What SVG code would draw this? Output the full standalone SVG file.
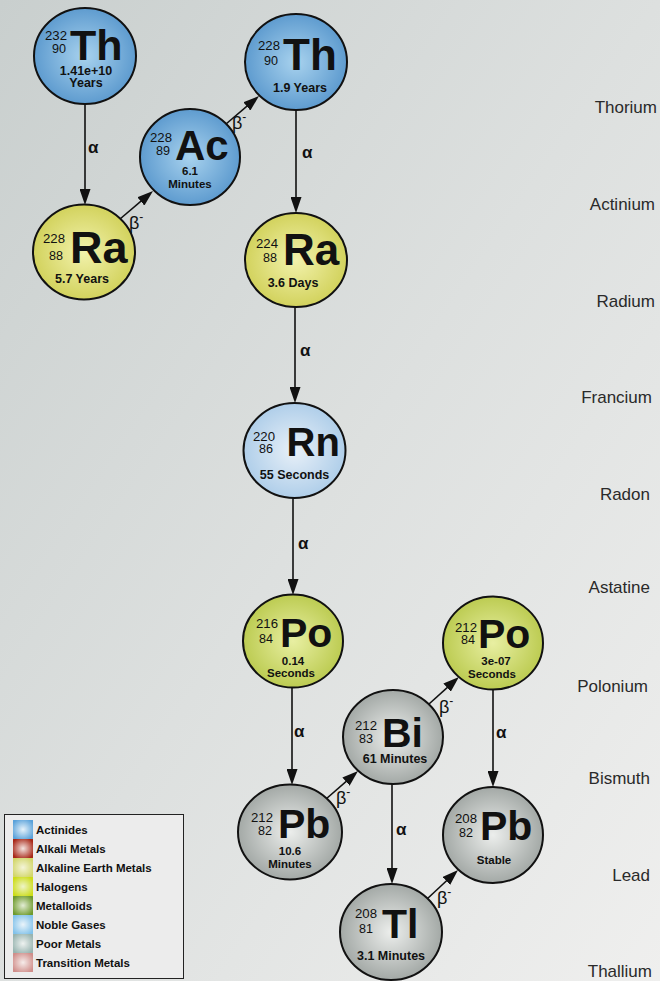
<svg xmlns="http://www.w3.org/2000/svg" width="660" height="981" viewBox="0 0 660 981">
  <defs>
    <linearGradient id="bg" x1="0" y1="0" x2="1" y2="1">
      <stop offset="0" stop-color="#c9cfce"/>
      <stop offset="0.5" stop-color="#dde0df"/>
      <stop offset="1" stop-color="#efefee"/>
    </linearGradient>
    <radialGradient id="gAct" cx="0.5" cy="0.5" r="0.55">
      <stop offset="0" stop-color="#a8d2ee"/>
      <stop offset="1" stop-color="#5796cc"/>
    </radialGradient>
    <radialGradient id="gAlk" cx="0.5" cy="0.5" r="0.55">
      <stop offset="0" stop-color="#f2f2ac"/>
      <stop offset="1" stop-color="#cfcf55"/>
    </radialGradient>
    <radialGradient id="gNob" cx="0.5" cy="0.5" r="0.55">
      <stop offset="0" stop-color="#e8f0f8"/>
      <stop offset="1" stop-color="#aacbe8"/>
    </radialGradient>
    <radialGradient id="gPol" cx="0.5" cy="0.5" r="0.55">
      <stop offset="0" stop-color="#e8efa2"/>
      <stop offset="1" stop-color="#b8c84a"/>
    </radialGradient>
    <radialGradient id="gPoor" cx="0.5" cy="0.5" r="0.55">
      <stop offset="0" stop-color="#eceeec"/>
      <stop offset="1" stop-color="#9ca29f"/>
    </radialGradient>
    <!-- legend swatches -->
    <radialGradient id="sw1" cx="0.5" cy="0.5" r="0.6"><stop offset="0" stop-color="#e6f2fa"/><stop offset="1" stop-color="#5aa2da"/></radialGradient>
    <radialGradient id="sw2" cx="0.5" cy="0.5" r="0.6"><stop offset="0" stop-color="#f4e4e0"/><stop offset="1" stop-color="#a82818"/></radialGradient>
    <radialGradient id="sw3" cx="0.5" cy="0.5" r="0.6"><stop offset="0" stop-color="#f4f4d8"/><stop offset="1" stop-color="#d2d66a"/></radialGradient>
    <radialGradient id="sw4" cx="0.5" cy="0.5" r="0.6"><stop offset="0" stop-color="#eef4c8"/><stop offset="1" stop-color="#ccdc18"/></radialGradient>
    <radialGradient id="sw5" cx="0.5" cy="0.5" r="0.6"><stop offset="0" stop-color="#e2ecd4"/><stop offset="1" stop-color="#6e9a2c"/></radialGradient>
    <radialGradient id="sw6" cx="0.5" cy="0.5" r="0.6"><stop offset="0" stop-color="#eaf4fa"/><stop offset="1" stop-color="#82c2ea"/></radialGradient>
    <radialGradient id="sw7" cx="0.5" cy="0.5" r="0.6"><stop offset="0" stop-color="#eef2f0"/><stop offset="1" stop-color="#98b4b0"/></radialGradient>
    <radialGradient id="sw8" cx="0.5" cy="0.5" r="0.6"><stop offset="0" stop-color="#f6ecea"/><stop offset="1" stop-color="#d08e8a"/></radialGradient>
    <marker id="ah" viewBox="0 0 16 11" refX="8" refY="5.5" markerWidth="16" markerHeight="11" markerUnits="userSpaceOnUse" orient="auto">
      <path d="M0,0 L16,5.5 L0,11 z" fill="#111"/>
    </marker>
    <style>
      .atom { stroke: #111; stroke-width: 2; }
      text { font-family: "Liberation Sans", Arial, sans-serif; fill: #111; }
      .m { font-size: 13.5px; text-anchor: end; }
      .sym { font-size: 41px; font-weight: bold; }
      .t { font-size: 12.5px; font-weight: bold; text-anchor: middle; }
      .t2 { font-size: 11.5px; font-weight: bold; text-anchor: middle; }
      .edge { stroke: #111; stroke-width: 1.6; fill: none; marker-end: url(#ah); }
      .a { font-size: 17px; font-weight: bold; }
      .b { font-size: 18px; }
      .bs { font-size: 12px; }
      .el { font-size: 17px; text-anchor: end; fill: #2a2a2a; }
      .lg { font-size: 11.5px; font-weight: bold; }
    </style>
  </defs>

  <rect x="0" y="0" width="660" height="981" fill="url(#bg)"/>

  <!-- element row labels -->
  <g id="rows">
    <text class="el" x="657" y="113">Thorium</text>
    <text class="el" x="655" y="210">Actinium</text>
    <text class="el" x="655" y="307">Radium</text>
    <text class="el" x="652" y="403">Francium</text>
    <text class="el" x="650" y="500">Radon</text>
    <text class="el" x="650" y="593">Astatine</text>
    <text class="el" x="648" y="692">Polonium</text>
    <text class="el" x="650" y="784">Bismuth</text>
    <text class="el" x="650" y="881">Lead</text>
    <text class="el" x="652" y="977">Thallium</text>
  </g>

  <!-- decay connectors -->
  <g id="connectors">
    <line class="edge" x1="85" y1="104" x2="85" y2="197"/>
    <text class="a" x="88" y="153">α</text>
    <line class="edge" x1="120" y1="219" x2="146.9" y2="196.2"/>
    <text class="b" x="129" y="229">β<tspan class="bs" dy="-8">-</tspan></text>
    <line class="edge" x1="226" y1="124" x2="252.9" y2="101.2"/>
    <text class="b" x="232" y="129">β<tspan class="bs" dy="-8">-</tspan></text>
    <line class="edge" x1="296" y1="110" x2="296" y2="205"/>
    <text class="a" x="302" y="158">α</text>
    <line class="edge" x1="295" y1="307" x2="295" y2="395"/>
    <text class="a" x="300" y="356">α</text>
    <line class="edge" x1="293" y1="498" x2="293" y2="587"/>
    <text class="a" x="298" y="549">α</text>
    <line class="edge" x1="292" y1="688" x2="292" y2="777"/>
    <text class="a" x="294" y="737">α</text>
    <line class="edge" x1="326" y1="799" x2="352" y2="776.3"/>
    <text class="b" x="336" y="804">β<tspan class="bs" dy="-8">-</tspan></text>
    <line class="edge" x1="429" y1="704" x2="453" y2="682.3"/>
    <text class="b" x="439" y="713">β<tspan class="bs" dy="-8">-</tspan></text>
    <line class="edge" x1="493" y1="690" x2="493" y2="779"/>
    <text class="a" x="496" y="738">α</text>
    <line class="edge" x1="392" y1="784" x2="392" y2="876"/>
    <text class="a" x="396" y="835">α</text>
    <line class="edge" x1="427" y1="899" x2="452.2" y2="875.5"/>
    <text class="b" x="437" y="904">β<tspan class="bs" dy="-8">-</tspan></text>
  </g>

  <!-- nuclides -->
  <g id="th232" transform="translate(85,56)">
    <ellipse class="atom" rx="51" ry="48" fill="url(#gAct)"/>
    <text class="m" x="-18" y="-16" textLength="22" lengthAdjust="spacingAndGlyphs">232</text>
    <text class="m" x="-19" y="-3" textLength="14" lengthAdjust="spacingAndGlyphs">90</text>
    <text class="sym" x="-15" y="4" style="font-size:43px">Th</text>
    <text class="t" x="1" y="19">1.41e+10</text>
    <text class="t" x="1" y="31">Years</text>
  </g>

  <g id="ac228" transform="translate(190,157)">
    <ellipse class="atom" rx="50" ry="48" fill="url(#gAct)"/>
    <text class="m" x="-18" y="-15" textLength="22" lengthAdjust="spacingAndGlyphs">228</text>
    <text class="m" x="-20" y="-2" textLength="14" lengthAdjust="spacingAndGlyphs">89</text>
    <text class="sym" x="-15" y="3" style="font-size:42px">Ac</text>
    <text class="t2" x="0" y="18">6.1</text>
    <text class="t2" x="0" y="31">Minutes</text>
  </g>

  <g id="th228" transform="translate(296,62)">
    <ellipse class="atom" rx="51" ry="48" fill="url(#gAct)"/>
    <text class="m" x="-16" y="-12" textLength="22" lengthAdjust="spacingAndGlyphs">228</text>
    <text class="m" x="-18" y="3" textLength="14" lengthAdjust="spacingAndGlyphs">90</text>
    <text class="sym" x="-13" y="8" style="font-size:44px">Th</text>
    <text class="t" x="4" y="30">1.9 Years</text>
  </g>

  <g id="ra228" transform="translate(84,252)">
    <ellipse class="atom" rx="51" ry="47.5" fill="url(#gAlk)"/>
    <text class="m" x="-19" y="-9" textLength="22" lengthAdjust="spacingAndGlyphs">228</text>
    <text class="m" x="-21" y="8" textLength="14" lengthAdjust="spacingAndGlyphs">88</text>
    <text class="sym" x="-14" y="11" style="font-size:45px">Ra</text>
    <text class="t" x="-2" y="31">5.7 Years</text>
  </g>

  <g id="ra224" transform="translate(296,260)">
    <ellipse class="atom" rx="51" ry="47" fill="url(#gAlk)"/>
    <text class="m" x="-18" y="-12" textLength="22" lengthAdjust="spacingAndGlyphs">224</text>
    <text class="m" x="-19" y="2" textLength="14" lengthAdjust="spacingAndGlyphs">88</text>
    <text class="sym" x="-13" y="5" style="font-size:44px">Ra</text>
    <text class="t" x="-3" y="27">3.6 Days</text>
  </g>

  <g id="rn220" transform="translate(294.5,450.5)">
    <ellipse class="atom" rx="51" ry="47.5" fill="url(#gNob)"/>
    <text class="m" x="-19.5" y="-10" textLength="22" lengthAdjust="spacingAndGlyphs">220</text>
    <text class="m" x="-21.5" y="2" textLength="14" lengthAdjust="spacingAndGlyphs">86</text>
    <text class="sym" x="-8" y="5" style="font-size:40px">Rn</text>
    <text class="t" x="0" y="28">55 Seconds</text>
  </g>

  <g id="po216" transform="translate(293,641)">
    <ellipse class="atom" rx="50" ry="46.5" fill="url(#gPol)"/>
    <text class="m" x="-15" y="-13" textLength="22" lengthAdjust="spacingAndGlyphs">216</text>
    <text class="m" x="-20" y="2" textLength="14" lengthAdjust="spacingAndGlyphs">84</text>
    <text class="sym" x="-13" y="6">Po</text>
    <text class="t2" x="0" y="24">0.14</text>
    <text class="t2" x="-2" y="36">Seconds</text>
  </g>

  <g id="po212" transform="translate(493,643)">
    <ellipse class="atom" rx="50" ry="46.5" fill="url(#gPol)"/>
    <text class="m" x="-16" y="-11" textLength="22" lengthAdjust="spacingAndGlyphs">212</text>
    <text class="m" x="-18" y="1" textLength="14" lengthAdjust="spacingAndGlyphs">84</text>
    <text class="sym" x="-15" y="5">Po</text>
    <text class="t2" x="3" y="22">3e-07</text>
    <text class="t2" x="-1" y="35">Seconds</text>
  </g>

  <g id="bi212" transform="translate(393,737)">
    <ellipse class="atom" rx="50" ry="47" fill="url(#gPoor)"/>
    <text class="m" x="-16" y="-7" textLength="22" lengthAdjust="spacingAndGlyphs">212</text>
    <text class="m" x="-20" y="6" textLength="14" lengthAdjust="spacingAndGlyphs">83</text>
    <text class="sym" x="-11" y="10">Bi</text>
    <text class="t" x="2" y="26">61 Minutes</text>
  </g>

  <g id="pb212" transform="translate(290,832)">
    <ellipse class="atom" rx="52" ry="47.5" fill="url(#gPoor)"/>
    <text class="m" x="-17" y="-10" textLength="22" lengthAdjust="spacingAndGlyphs">212</text>
    <text class="m" x="-18" y="3" textLength="14" lengthAdjust="spacingAndGlyphs">82</text>
    <text class="sym" x="-12" y="6">Pb</text>
    <text class="t2" x="0" y="23">10.6</text>
    <text class="t2" x="0" y="36">Minutes</text>
  </g>

  <g id="pb208" transform="translate(493,835)">
    <ellipse class="atom" rx="50" ry="48" fill="url(#gPoor)"/>
    <text class="m" x="-16" y="-12" textLength="22" lengthAdjust="spacingAndGlyphs">208</text>
    <text class="m" x="-20" y="2" textLength="14" lengthAdjust="spacingAndGlyphs">82</text>
    <text class="sym" x="-13" y="5">Pb</text>
    <text class="t2" x="1" y="29">Stable</text>
  </g>

  <g id="tl208" transform="translate(391,932)">
    <ellipse class="atom" rx="51" ry="48" fill="url(#gPoor)"/>
    <text class="m" x="-14" y="-14" textLength="22" lengthAdjust="spacingAndGlyphs">208</text>
    <text class="m" x="-18" y="1" textLength="14" lengthAdjust="spacingAndGlyphs">81</text>
    <text class="sym" x="-9" y="6">Tl</text>
    <text class="t" x="0" y="28">3.1 Minutes</text>
  </g>

  <!-- legend -->
  <g id="legend">
    <rect x="4.5" y="814.5" width="179" height="164" fill="#ececec" stroke="#222" stroke-width="1"/>
    <rect x="13" y="820" width="20" height="19" fill="url(#sw1)"/>
    <text class="lg" x="36" y="834">Actinides</text>
    <rect x="13" y="839" width="20" height="19" fill="url(#sw2)"/>
    <text class="lg" x="36" y="853">Alkali Metals</text>
    <rect x="13" y="858" width="20" height="19" fill="url(#sw3)"/>
    <text class="lg" x="36" y="872">Alkaline Earth Metals</text>
    <rect x="13" y="877" width="20" height="19" fill="url(#sw4)"/>
    <text class="lg" x="36" y="891">Halogens</text>
    <rect x="13" y="896" width="20" height="19" fill="url(#sw5)"/>
    <text class="lg" x="36" y="910">Metalloids</text>
    <rect x="13" y="915" width="20" height="19" fill="url(#sw6)"/>
    <text class="lg" x="36" y="929">Noble Gases</text>
    <rect x="13" y="934" width="20" height="19" fill="url(#sw7)"/>
    <text class="lg" x="36" y="948">Poor Metals</text>
    <rect x="13" y="953" width="20" height="19" fill="url(#sw8)"/>
    <text class="lg" x="36" y="967">Transition Metals</text>
  </g>
</svg>
